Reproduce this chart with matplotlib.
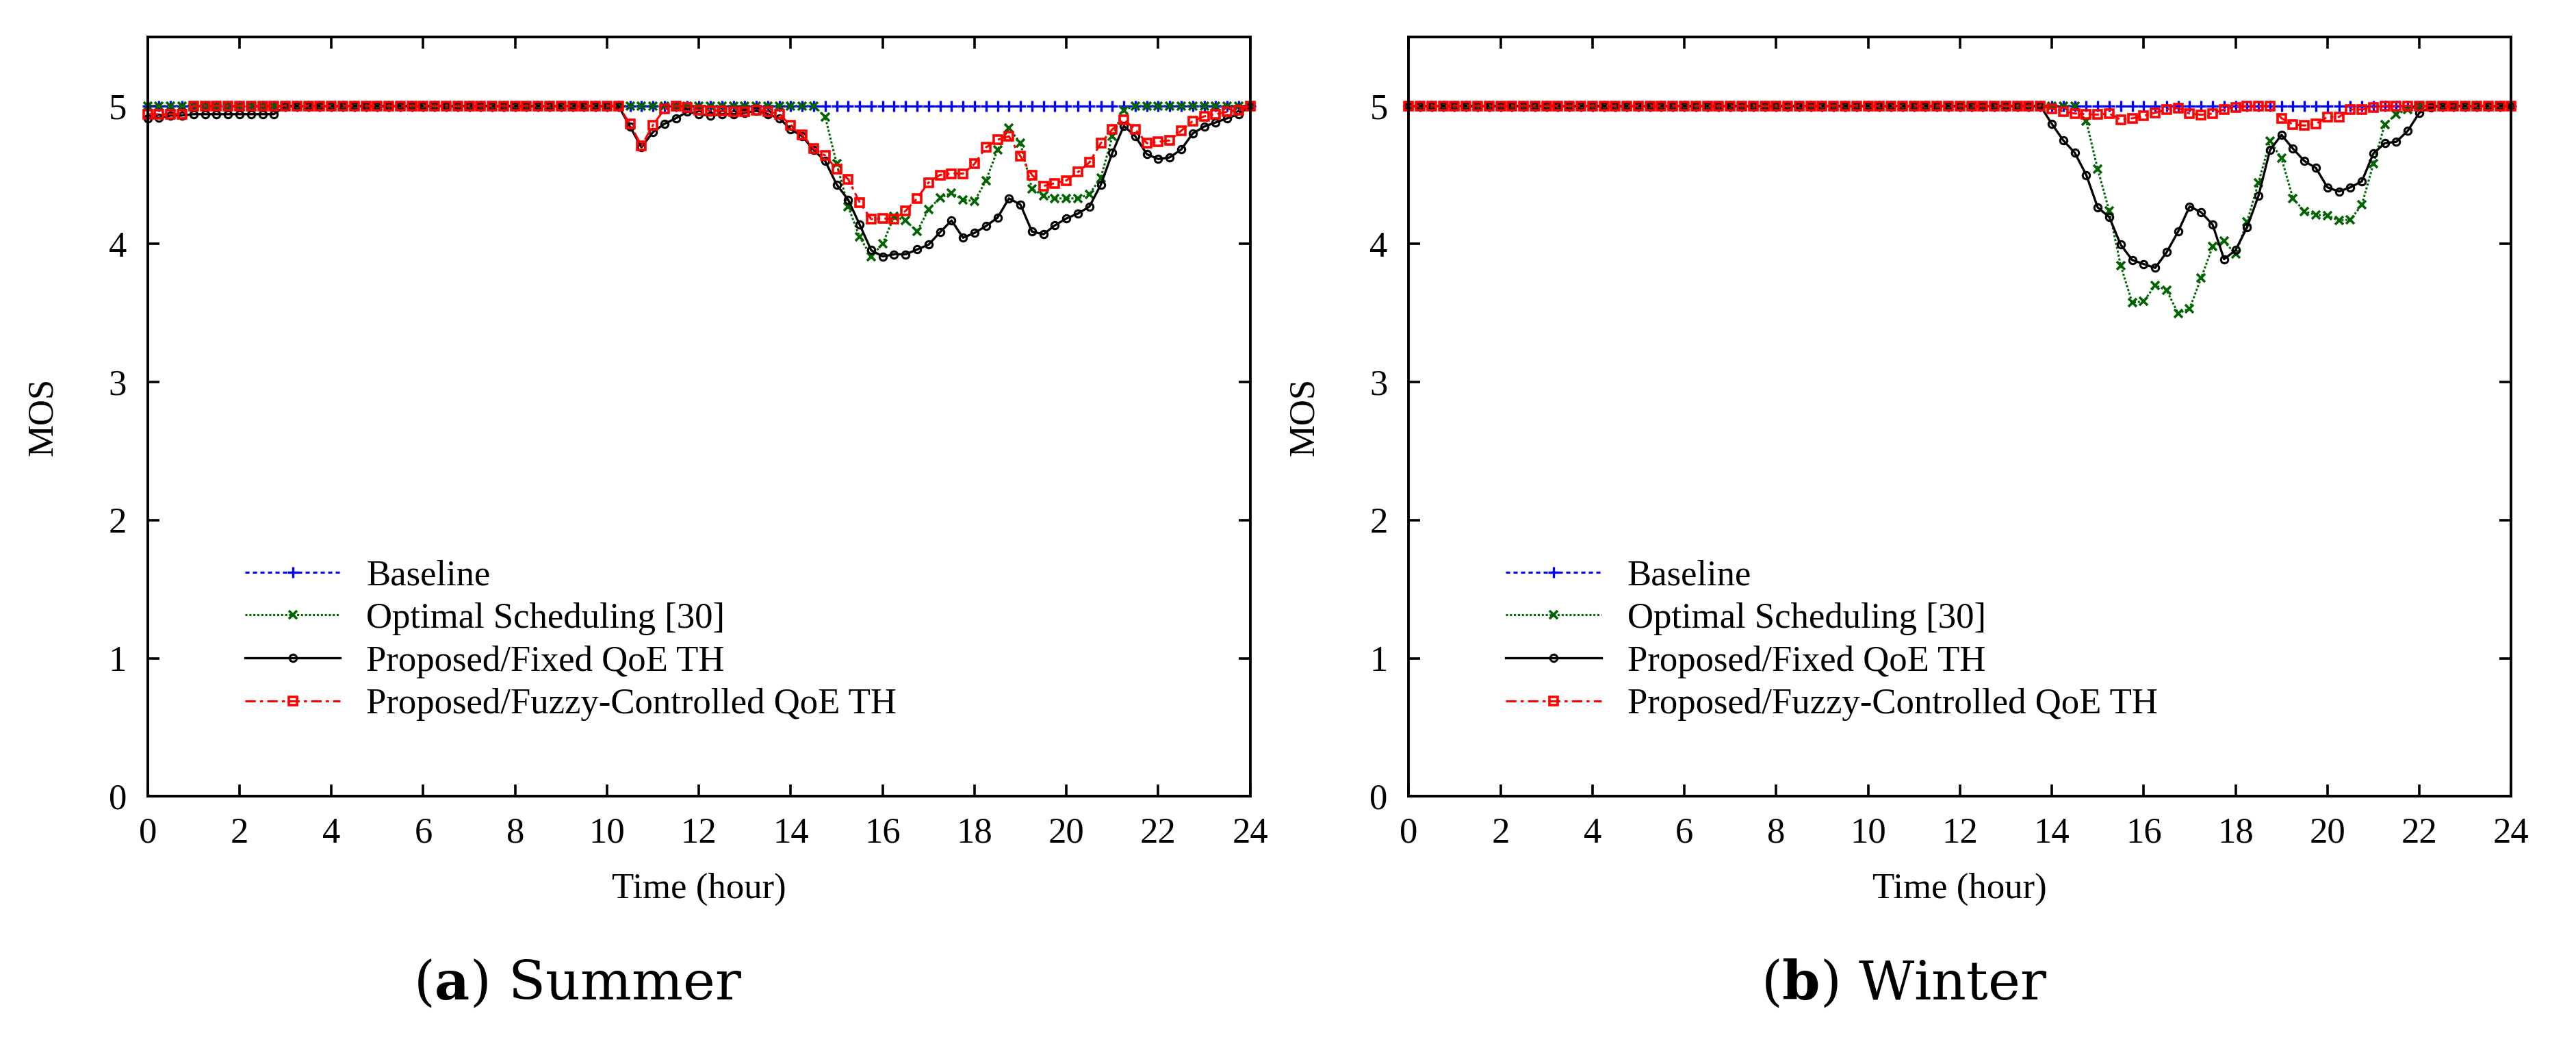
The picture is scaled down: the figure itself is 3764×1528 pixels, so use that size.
import numpy as np
import matplotlib
matplotlib.use('Agg')
import matplotlib.pyplot as plt

# time axis, one value every 15 min
hours = np.linspace(0, 24, 97)

# ---- Summer (one row per hour, 4 samples each, last row = 24h) ----
summer_baseline = [5.0] * 97

summer_optimal = [
    5.0, 5.0, 5.0, 5.0,     # 0
    5.0, 5.0, 5.0, 5.0,     # 1
    5.0, 5.0, 5.0, 5.0,     # 2
    5.0, 5.0, 5.0, 5.0,     # 3
    5.0, 5.0, 5.0, 5.0,     # 4
    5.0, 5.0, 5.0, 5.0,     # 5
    5.0, 5.0, 5.0, 5.0,     # 6
    5.0, 5.0, 5.0, 5.0,     # 7
    5.0, 5.0, 5.0, 5.0,     # 8
    5.0, 5.0, 5.0, 5.0,     # 9
    5.0, 5.0, 5.0, 5.0,     # 10
    5.0, 5.0, 5.0, 5.0,     # 11
    5.0, 5.0, 5.0, 5.0,     # 12
    5.0, 5.0, 5.0, 5.0,     # 13
    5.0, 5.0, 5.0, 4.92,    # 14
    4.58, 4.27, 4.05, 3.91, # 15
    4.00, 4.20, 4.17, 4.09, # 16
    4.25, 4.335, 4.37, 4.32,  # 17
    4.31, 4.46, 4.68, 4.84, # 18
    4.73, 4.40, 4.35, 4.33, # 19
    4.33, 4.33, 4.36, 4.48, # 20
    4.78, 4.97, 5.0, 5.0,   # 21
    5.0, 5.0, 5.0, 5.0,     # 22
    5.0, 5.0, 5.0, 5.0,     # 23
    5.0]

summer_fixed = [
    4.91, 4.915, 4.93, 4.93,  # 0
    4.94, 4.94, 4.94, 4.94,   # 1
    4.94, 4.94, 4.94, 4.94,   # 2
    5.0, 5.0, 5.0, 5.0,       # 3
    5.0, 5.0, 5.0, 5.0,       # 4
    5.0, 5.0, 5.0, 5.0,       # 5
    5.0, 5.0, 5.0, 5.0,       # 6
    5.0, 5.0, 5.0, 5.0,       # 7
    5.0, 5.0, 5.0, 5.0,       # 8
    5.0, 5.0, 5.0, 5.0,       # 9
    5.0, 5.0, 4.85, 4.70,     # 10
    4.81, 4.87, 4.91, 4.957,  # 11
    4.94, 4.93, 4.94, 4.94,   # 12
    4.95, 4.965, 4.94, 4.91,  # 13
    4.83, 4.78, 4.68, 4.60,   # 14
    4.43, 4.32, 4.14, 3.955,  # 15
    3.91, 3.925, 3.925, 3.96, # 16
    3.995, 4.085, 4.17, 4.045,  # 17
    4.08, 4.13, 4.19, 4.33,   # 18
    4.285, 4.09, 4.07, 4.135, # 19
    4.185, 4.22, 4.27, 4.43,  # 20
    4.66, 4.855, 4.78, 4.65,  # 21
    4.615, 4.627, 4.685, 4.80,  # 22
    4.85, 4.88, 4.91, 4.94,   # 23
    5.0]

summer_fuzzy = [
    4.94, 4.94, 4.94, 4.94,   # 0
    5.0, 5.0, 5.0, 5.0,       # 1
    5.0, 5.0, 5.0, 5.0,       # 2
    5.0, 5.0, 5.0, 5.0,       # 3
    5.0, 5.0, 5.0, 5.0,       # 4
    5.0, 5.0, 5.0, 5.0,       # 5
    5.0, 5.0, 5.0, 5.0,       # 6
    5.0, 5.0, 5.0, 5.0,       # 7
    5.0, 5.0, 5.0, 5.0,       # 8
    5.0, 5.0, 5.0, 5.0,       # 9
    5.0, 5.0, 4.87, 4.71,     # 10
    4.86, 4.977, 5.0, 4.99,   # 11
    4.97, 4.965, 4.965, 4.957,  # 12
    4.957, 4.97, 4.96, 4.94,  # 13
    4.86, 4.79, 4.69, 4.64,   # 14
    4.54, 4.47, 4.30, 4.18,   # 15
    4.185, 4.18, 4.24, 4.33,  # 16
    4.445, 4.50, 4.51, 4.51,  # 17
    4.58, 4.70, 4.754, 4.78,  # 18
    4.635, 4.50, 4.42, 4.44,  # 19
    4.46, 4.52, 4.59, 4.73,   # 20
    4.83, 4.90, 4.83, 4.73,   # 21
    4.74, 4.75, 4.82, 4.89,   # 22
    4.924, 4.94, 4.957, 4.97, # 23
    5.0]

# ---- Winter ----
winter_baseline = [5.0] * 97

winter_optimal = [
    5.0, 5.0, 5.0, 5.0,     # 0
    5.0, 5.0, 5.0, 5.0,     # 1
    5.0, 5.0, 5.0, 5.0,     # 2
    5.0, 5.0, 5.0, 5.0,     # 3
    5.0, 5.0, 5.0, 5.0,     # 4
    5.0, 5.0, 5.0, 5.0,     # 5
    5.0, 5.0, 5.0, 5.0,     # 6
    5.0, 5.0, 5.0, 5.0,     # 7
    5.0, 5.0, 5.0, 5.0,     # 8
    5.0, 5.0, 5.0, 5.0,     # 9
    5.0, 5.0, 5.0, 5.0,     # 10
    5.0, 5.0, 5.0, 5.0,     # 11
    5.0, 5.0, 5.0, 5.0,     # 12
    5.0, 5.0, 5.0, 5.0,     # 13
    5.0, 5.0, 5.0, 4.89,    # 14
    4.54, 4.24, 3.843, 3.576,   # 15
    3.584, 3.70, 3.665, 3.497,  # 16
    3.533, 3.753, 3.98, 4.02,   # 17
    3.926, 4.16, 4.445, 4.746,  # 18
    4.62, 4.33, 4.236, 4.21,    # 19
    4.206, 4.17, 4.176, 4.284,  # 20
    4.58, 4.866, 4.94, 4.974,   # 21
    5.0, 5.0, 5.0, 5.0,     # 22
    5.0, 5.0, 5.0, 5.0,     # 23
    5.0]

winter_fixed = [
    5.0, 5.0, 5.0, 5.0,     # 0
    5.0, 5.0, 5.0, 5.0,     # 1
    5.0, 5.0, 5.0, 5.0,     # 2
    5.0, 5.0, 5.0, 5.0,     # 3
    5.0, 5.0, 5.0, 5.0,     # 4
    5.0, 5.0, 5.0, 5.0,     # 5
    5.0, 5.0, 5.0, 5.0,     # 6
    5.0, 5.0, 5.0, 5.0,     # 7
    5.0, 5.0, 5.0, 5.0,     # 8
    5.0, 5.0, 5.0, 5.0,     # 9
    5.0, 5.0, 5.0, 5.0,     # 10
    5.0, 5.0, 5.0, 5.0,     # 11
    5.0, 5.0, 5.0, 5.0,     # 12
    5.0, 5.0, 5.0, 5.0,     # 13
    4.87, 4.75, 4.66, 4.50,     # 14
    4.264, 4.195, 3.995, 3.884, # 15
    3.855, 3.827, 3.94, 4.09,   # 16
    4.272, 4.23, 4.14, 3.89,    # 17
    3.955, 4.12, 4.35, 4.68,    # 18
    4.79, 4.69, 4.60, 4.55,     # 19
    4.41, 4.38, 4.41, 4.454,    # 20
    4.655, 4.73, 4.74, 4.82,    # 21
    4.95, 4.99, 5.0, 5.0,   # 22
    5.0, 5.0, 5.0, 5.0,     # 23
    5.0]

winter_fuzzy = [
    5.0, 5.0, 5.0, 5.0,     # 0
    5.0, 5.0, 5.0, 5.0,     # 1
    5.0, 5.0, 5.0, 5.0,     # 2
    5.0, 5.0, 5.0, 5.0,     # 3
    5.0, 5.0, 5.0, 5.0,     # 4
    5.0, 5.0, 5.0, 5.0,     # 5
    5.0, 5.0, 5.0, 5.0,     # 6
    5.0, 5.0, 5.0, 5.0,     # 7
    5.0, 5.0, 5.0, 5.0,     # 8
    5.0, 5.0, 5.0, 5.0,     # 9
    5.0, 5.0, 5.0, 5.0,     # 10
    5.0, 5.0, 5.0, 5.0,     # 11
    5.0, 5.0, 5.0, 5.0,     # 12
    5.0, 5.0, 5.0, 5.0,     # 13
    4.98, 4.96, 4.945, 4.94,    # 14
    4.937, 4.944, 4.90, 4.91,   # 15
    4.927, 4.95, 4.974, 4.985,  # 16
    4.944, 4.936, 4.944, 4.974, # 17
    4.99, 5.0, 5.0, 5.0,        # 18
    4.91, 4.866, 4.858, 4.87,   # 19
    4.92, 4.92, 4.974, 4.974,   # 20
    4.99, 5.0, 5.0, 5.0,    # 21
    5.0, 5.0, 5.0, 5.0,     # 22
    5.0, 5.0, 5.0, 5.0,     # 23
    5.0]

labels = ['Baseline', 'Optimal Scheduling [30]',
          'Proposed/Fixed QoE TH', 'Proposed/Fuzzy-Controlled QoE TH']
xticks = list(range(0, 25, 2))
yticks = [0, 1, 2, 3, 4, 5]

plt.rcParams['font.family'] = ['Liberation Serif', 'DejaVu Serif']
plt.rcParams['mathtext.fontset'] = 'custom'
plt.rcParams['mathtext.rm'] = 'DejaVu Serif'
plt.rcParams['mathtext.bf'] = 'DejaVu Serif:bold'

W, H = 3764, 1528
fig = plt.figure(figsize=(W / 100, H / 100), dpi=100)


def panel(left, series):
    ax = fig.add_axes([left / W, (H - 1163.3) / H, 1611 / W, 1109.5 / H])
    base, opt, fixed, fuzzy = series
    ax.plot(hours, base, color='#0000ff', lw=2.2, ls=(0, (2, 1.6)),
            marker='+', ms=11, mew=2.4, label=labels[0], clip_on=False)
    ax.plot(hours, opt, color='#006400', lw=2.2, ls=(0, (1, 0.9)),
            marker='x', ms=9, mew=2.6, label=labels[1], clip_on=False)
    ax.plot(hours, fixed, color='black', lw=2.4, ls='-',
            marker='o', ms=7.5, mew=2.2, mfc='none', label=labels[2], clip_on=False)
    ax.plot(hours, fuzzy, color='#ff0000', lw=2.2, ls=(0, (5, 2, 1.5, 2)),
            marker='s', ms=8, mew=2.6, mfc='none', label=labels[3], clip_on=False)
    ax.set_xlim(0, 24)
    ax.set_ylim(0, 5.5)
    ax.set_xticks(xticks)
    ax.set_yticks(yticks)
    ax.tick_params(direction='in', length=12, width=2.6, top=True, right=True,
                   labelsize=38)
    ax.tick_params(axis='x', pad=22)
    ax.tick_params(axis='y', pad=22)
    for s in ax.spines.values():
        s.set_linewidth(2.8)
    ax.set_xlabel('Time (hour)', fontsize=38)
    ax.xaxis.set_label_coords(0.5, -0.1223)
    ax.xaxis.label.set_va('center')
    ax.set_ylabel('MOS', fontsize=38)
    ax.yaxis.set_label_coords(-0.0948, 0.5)
    ax.yaxis.label.set_va('center')
    ax.legend(loc='upper left', bbox_to_anchor=(0.0881, 0.312), frameon=False,
              fontsize=38, numpoints=1, handlelength=2.65, handletextpad=0.71,
              labelspacing=0.28, borderpad=0, borderaxespad=0)
    return ax


ax1 = panel(215.7, (summer_baseline, summer_optimal, summer_fixed, summer_fuzzy))
ax2 = panel(2058.3, (winter_baseline, winter_optimal, winter_fixed, winter_fuzzy))

# sub-figure captions (LaTeX-style, wider serif)
fig.text(844 / W, 1 - 1438 / H, r'($\mathbf{a}$) Summer', fontsize=57,
         family='DejaVu Serif', ha='center', va='center')
fig.text(2782 / W, 1 - 1438 / H, r'($\mathbf{b}$) Winter', fontsize=57,
         family='DejaVu Serif', ha='center', va='center')

fig.savefig('out.png', dpi=100)
